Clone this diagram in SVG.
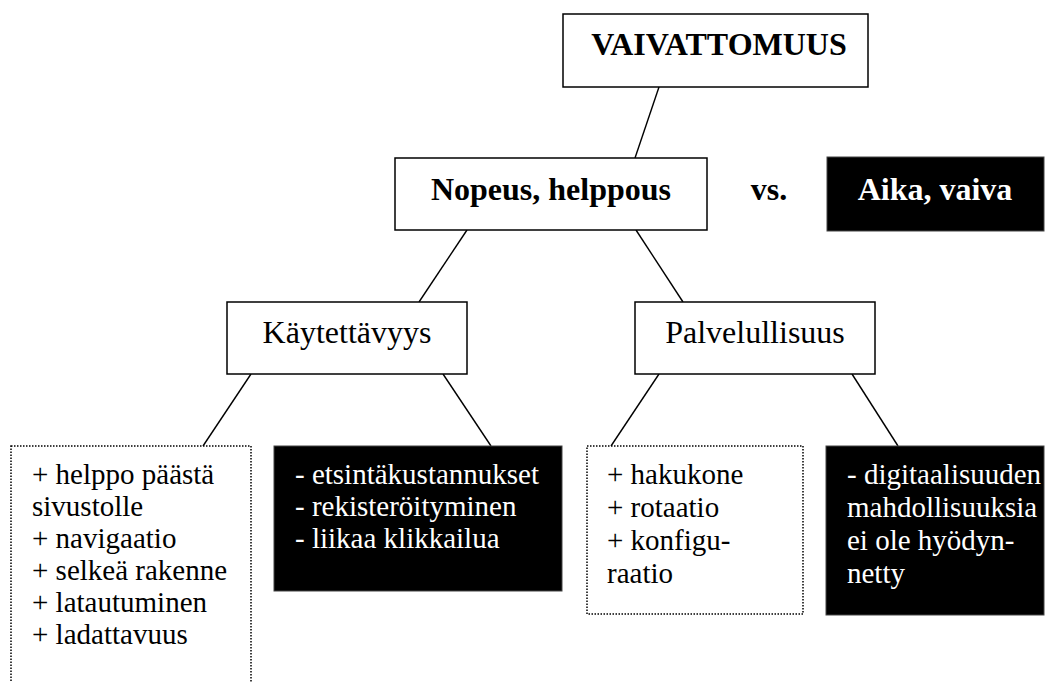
<svg xmlns="http://www.w3.org/2000/svg" width="1053" height="682" viewBox="0 0 1053 682">
<style>
text{font-family:"Liberation Serif","Times New Roman",serif}
.box{fill:#fff;stroke:#000;stroke-width:1.5}
.dark{fill:#000;stroke:#444;stroke-width:1}
.dot{fill:#fff;stroke:#000;stroke-width:1.5;stroke-dasharray:1.5 1.5}
.t{font-size:32px;fill:#000}
.b{font-weight:bold}
.s{font-size:29px;fill:#000}
.w{fill:#fff}
.c{text-anchor:middle}
.conn line{stroke:#000;stroke-width:1.4}
</style>
<rect width="1053" height="682" fill="#fff"/>
<g class="conn" id="connectors">
<line x1="659" y1="87" x2="635" y2="158"/>
<line x1="467" y1="230" x2="419" y2="302"/>
<line x1="636" y1="230" x2="683" y2="302"/>
<line x1="251" y1="374" x2="203" y2="446"/>
<line x1="443" y1="374" x2="491" y2="446"/>
<line x1="659" y1="374" x2="611" y2="446"/>
<line x1="852" y1="374" x2="898" y2="446"/>
</g>
<g id="vaivattomuus">
<rect class="box" x="563" y="14" width="305" height="73"/>
<text class="t b c" x="719" y="55">VAIVATTOMUUS</text>
</g>
<g id="nopeus">
<rect class="box" x="395" y="158" width="312" height="72"/>
<text class="t b c" x="551" y="200">Nopeus, helppous</text>
</g>
<g id="vs">
<text class="t b c" x="769" y="200">vs.</text>
</g>
<g id="aika">
<rect class="dark" x="827" y="157" width="217" height="74"/>
<text class="t b c w" x="935" y="200">Aika, vaiva</text>
</g>
<g id="kaytettavyys">
<rect class="box" x="227" y="302" width="240" height="72"/>
<text class="t c" x="347" y="343">Käytettävyys</text>
</g>
<g id="palvelullisuus">
<rect class="box" x="635" y="302" width="240" height="72"/>
<text class="t c" x="755" y="343">Palvelullisuus</text>
</g>
<g id="kayt-plus">
<rect class="dot" x="11" y="446" width="240" height="260"/>
<text class="s" x="32" y="484">+ helppo päästä</text>
<text class="s" x="32" y="516">sivustolle</text>
<text class="s" x="32" y="548">+ navigaatio</text>
<text class="s" x="32" y="580">+ selkeä rakenne</text>
<text class="s" x="32" y="612">+ latautuminen</text>
<text class="s" x="32" y="644">+ ladattavuus</text>
</g>
<g id="kayt-minus">
<rect class="dark" x="274" y="446" width="288" height="145"/>
<text class="s w" x="295" y="484">- etsintäkustannukset</text>
<text class="s w" x="295" y="516">- rekisteröityminen</text>
<text class="s w" x="295" y="548">- liikaa klikkailua</text>
</g>
<g id="palv-plus">
<rect class="dot" x="587" y="446" width="216" height="168"/>
<text class="s" x="607" y="484">+ hakukone</text>
<text class="s" x="607" y="517">+ rotaatio</text>
<text class="s" x="607" y="550">+ konfigu-</text>
<text class="s" x="607" y="583">raatio</text>
</g>
<g id="palv-minus">
<rect class="dark" x="826" y="446" width="218" height="169"/>
<text class="s w" x="847" y="484">- digitaalisuuden</text>
<text class="s w" x="847" y="517">mahdollisuuksia</text>
<text class="s w" x="847" y="550">ei ole hyödyn-</text>
<text class="s w" x="847" y="583">netty</text>
</g>
</svg>
